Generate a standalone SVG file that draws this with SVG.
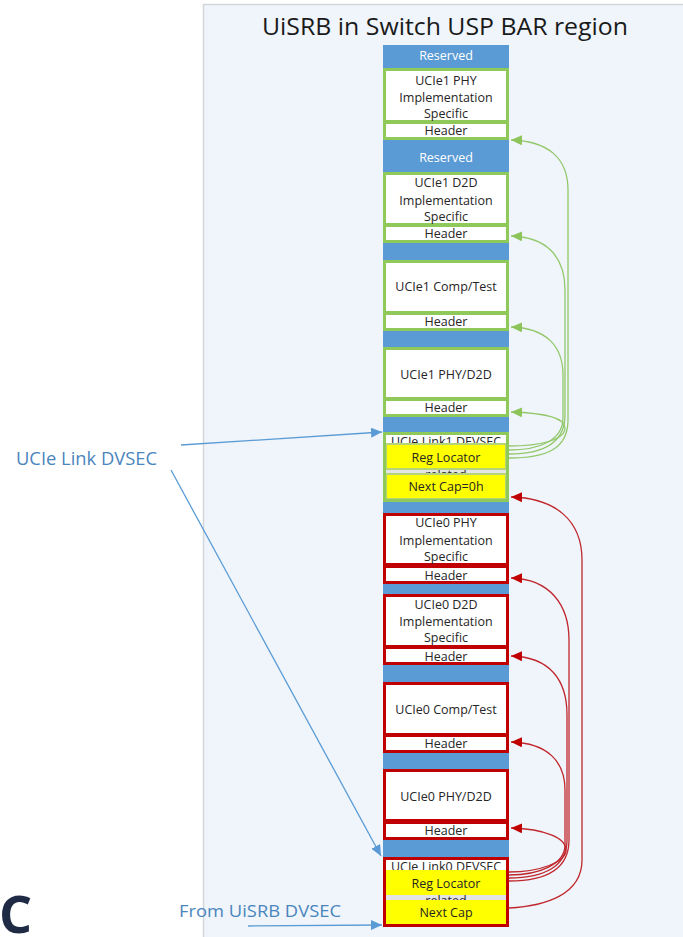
<svg xmlns="http://www.w3.org/2000/svg" width="683" height="937" viewBox="0 0 683 937">
<defs>
<style>
.t{font-family:'Open Sans','Liberation Sans',sans-serif;font-size:12.5px;fill:#262626;text-anchor:middle}
.w{fill:#ffffff}
.gb{fill:#ffffff;stroke:#8fc95a;stroke-width:3}
.rb{fill:#ffffff;stroke:#c00000;stroke-width:3}
.fr{fill:none}
.y{fill:#ffff00}
.gc{fill:none;stroke:#93c86a;stroke-width:1.3}
.rc{fill:none;stroke:#c0272d;stroke-width:1.3}
.bc{fill:none;stroke:#5b9bd5;stroke-width:1.3}
.lbl{font-family:'Open Sans','Liberation Sans',sans-serif;fill:#4a85bd}
</style>
<marker id="ag" markerWidth="12" markerHeight="10" refX="11" refY="5" orient="auto" markerUnits="userSpaceOnUse"><path d="M0,0 L11,5 L0,10 Z" fill="#8cc45a"/></marker>
<marker id="ar" markerWidth="12" markerHeight="10" refX="11" refY="5" orient="auto" markerUnits="userSpaceOnUse"><path d="M0,0 L11,5 L0,10 Z" fill="#c00000"/></marker>
<marker id="ab" markerWidth="12" markerHeight="10" refX="11" refY="5" orient="auto" markerUnits="userSpaceOnUse"><path d="M0,0 L11,5 L0,10 Z" fill="#5b9bd5"/></marker>
</defs>

<rect x="203.5" y="4.5" width="485" height="940" fill="#eff5fb" stroke="#d3d6da" stroke-width="1.5"/>
<text x="445" y="35" font-family="'Open Sans','Liberation Sans',sans-serif" font-size="23" fill="#1a1a1a" text-anchor="middle" textLength="366" lengthAdjust="spacingAndGlyphs">UiSRB in Switch USP BAR region</text>

<text x="-1" y="933" font-family="'Open Sans','Liberation Sans',sans-serif" font-size="52" font-weight="bold" fill="#1f2a44">C</text>

<rect x="383" y="45" width="126" height="882" fill="#5b9bd5"/>

<g id="reserved1"><text class="t w" x="446" y="60">Reserved</text></g>
<g id="ucie1-phy-impl">
<rect class="gb" x="384.5" y="69.5" width="123" height="52"/>
<text class="t" x="446" y="85">UCIe1 PHY</text>
<text class="t" x="446" y="102">Implementation</text>
<text class="t" x="446" y="118">Specific</text>
</g>
<g id="ucie1-phy-impl-header">
<rect class="gb" x="384.5" y="122.5" width="123" height="16"/>
<text class="t" x="446" y="135">Header</text>
</g>
<g id="reserved2"><text class="t w" x="446" y="162">Reserved</text></g>
<g id="ucie1-d2d-impl">
<rect class="gb" x="384.5" y="173.5" width="123" height="51"/>
<text class="t" x="446" y="187">UCIe1 D2D</text>
<text class="t" x="446" y="205">Implementation</text>
<text class="t" x="446" y="221">Specific</text>
</g>
<g id="ucie1-d2d-impl-header">
<rect class="gb" x="384.5" y="225.5" width="123" height="16"/>
<text class="t" x="446" y="238">Header</text>
</g>
<g id="ucie1-comp-test">
<rect class="gb" x="384.5" y="261.5" width="123" height="51"/>
<text class="t" x="446" y="291">UCIe1 Comp/Test</text>
</g>
<g id="ucie1-comp-test-header">
<rect class="gb" x="384.5" y="313.5" width="123" height="16"/>
<text class="t" x="446" y="326">Header</text>
</g>
<g id="ucie1-phy-d2d">
<rect class="gb" x="384.5" y="348.5" width="123" height="50"/>
<text class="t" x="446" y="379">UCIe1 PHY/D2D</text>
</g>
<g id="ucie1-phy-d2d-header">
<rect class="gb" x="384.5" y="399.5" width="123" height="16"/>
<text class="t" x="446" y="412">Header</text>
</g>
<g id="ucie-link1-dvsec">
<rect x="384.5" y="433.5" width="123" height="67" fill="#ffffff"/>
<text class="t" x="446" y="446">UCIe Link1 DEVSEC</text>
<rect x="385" y="469" width="122" height="5" fill="#e4e4e4"/>
<text class="t" x="446" y="479" fill="#555">related</text>
<rect class="y" x="386" y="444" width="120" height="25" stroke="#b5d47a" stroke-width="2"/>
<text class="t" x="446" y="462">Reg Locator</text>
<rect class="y" x="386" y="474" width="120" height="25" stroke="#b5d47a" stroke-width="2"/>
<text class="t" x="446" y="491">Next Cap=0h</text>
<rect class="gb fr" x="384.5" y="433.5" width="123" height="67"/>
</g>

<g id="ucie0-phy-impl">
<rect class="rb" x="384.5" y="514.5" width="123" height="50"/>
<text class="t" x="446" y="527">UCIe0 PHY</text>
<text class="t" x="446" y="545">Implementation</text>
<text class="t" x="446" y="561">Specific</text>
</g>
<g id="ucie0-phy-impl-header">
<rect class="rb" x="384.5" y="566.5" width="123" height="16"/>
<text class="t" x="446" y="580">Header</text>
</g>
<g id="ucie0-d2d-impl">
<rect class="rb" x="384.5" y="595.5" width="123" height="51"/>
<text class="t" x="446" y="609">UCIe0 D2D</text>
<text class="t" x="446" y="626">Implementation</text>
<text class="t" x="446" y="642">Specific</text>
</g>
<g id="ucie0-d2d-impl-header">
<rect class="rb" x="384.5" y="647.5" width="123" height="16"/>
<text class="t" x="446" y="661">Header</text>
</g>
<g id="ucie0-comp-test">
<rect class="rb" x="384.5" y="683.5" width="123" height="51"/>
<text class="t" x="446" y="714">UCIe0 Comp/Test</text>
</g>
<g id="ucie0-comp-test-header">
<rect class="rb" x="384.5" y="735.5" width="123" height="16"/>
<text class="t" x="446" y="748">Header</text>
</g>
<g id="ucie0-phy-d2d">
<rect class="rb" x="384.5" y="770.5" width="123" height="50"/>
<text class="t" x="446" y="801">UCIe0 PHY/D2D</text>
</g>
<g id="ucie0-phy-d2d-header">
<rect class="rb" x="384.5" y="822.5" width="123" height="16"/>
<text class="t" x="446" y="835">Header</text>
</g>
<g id="ucie-link0-dvsec">
<rect x="384.5" y="858.5" width="123" height="67" fill="#ffffff"/>
<text class="t" x="446" y="871">UCIe Link0 DEVSEC</text>
<rect x="385" y="895" width="122" height="5" fill="#e4e4e4"/>
<text class="t" x="446" y="905" fill="#555">related</text>
<rect class="y" x="386" y="870" width="121" height="25"/>
<text class="t" x="446" y="888">Reg Locator</text>
<rect class="y" x="386" y="900" width="121" height="25"/>
<text class="t" x="446" y="917">Next Cap</text>
<rect class="rb fr" x="384.5" y="858.5" width="123" height="67"/>
</g>

<g id="label-ucie-link-dvsec"><text class="lbl" x="16" y="465" font-size="18" textLength="141" lengthAdjust="spacingAndGlyphs">UCIe Link DVSEC</text></g>
<g id="label-from-uisrb"><text class="lbl" x="179" y="917" font-size="17" textLength="162" lengthAdjust="spacingAndGlyphs">From UiSRB DVSEC</text></g>

<g id="connectors">
<path class="gc" marker-end="url(#ag)" d="M509,458 C548,458 568,448 568,420 L568,190 C568,158 548,141 511,140"/>
<path class="gc" marker-end="url(#ag)" d="M509,454 C545,454 565,442 565,415 L565,290 C565,255 545,237 511,236"/>
<path class="gc" marker-end="url(#ag)" d="M509,450 C540,450 563,440 563,418 L563,375 C563,345 545,328 511,327"/>
<path class="gc" marker-end="url(#ag)" d="M509,446 C540,446 565,440 565,428 C565,418 545,413 511,412"/>

<path class="rc" marker-end="url(#ar)" d="M509,908 C545,906 582,895 582,860 L582,560 C582,520 555,498 511,497"/>
<path class="rc" marker-end="url(#ar)" d="M509,881 C545,881 569,870 569,840 L569,640 C569,605 550,579 511,578"/>
<path class="rc" marker-end="url(#ar)" d="M509,878 C545,878 567,866 567,840 L567,715 C567,680 550,657 511,656"/>
<path class="rc" marker-end="url(#ar)" d="M509,875 C540,875 565,864 565,845 L565,790 C565,762 548,743 511,742"/>
<path class="rc" marker-end="url(#ar)" d="M509,872 C540,872 566,862 566,850 C566,838 545,829 511,828"/>

<path class="bc" marker-end="url(#ab)" d="M181,445 L382,432"/>
<path class="bc" marker-end="url(#ab)" d="M171,470 L381,856"/>
<path class="bc" marker-end="url(#ab)" d="M248,926 L382,925"/>
</g>
</svg>
